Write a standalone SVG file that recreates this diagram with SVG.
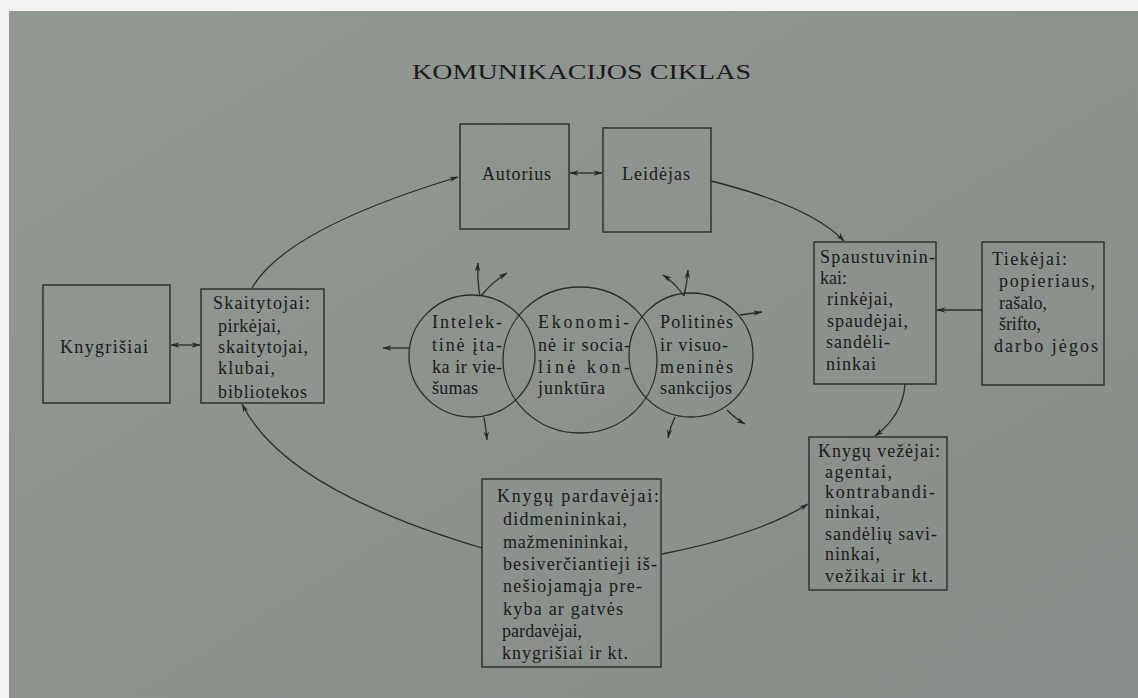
<svg xmlns="http://www.w3.org/2000/svg" width="1138" height="698" viewBox="0 0 1138 698">
<defs>
<linearGradient id="bg" x1="0" y1="0" x2="1" y2="1">
<stop offset="0" stop-color="#929892"/>
<stop offset="1" stop-color="#878d88"/>
</linearGradient>
<marker id="ah" viewBox="0 0 10 6" refX="9.5" refY="3" markerWidth="9" markerHeight="6" markerUnits="userSpaceOnUse" orient="auto-start-reverse">
<path d="M0,0 L10,3 L0,6 L3,3 z" fill="#272827"/>
</marker>
<style>
.box{fill:none;stroke:#2a2b2a;stroke-width:1.4}
.ln{fill:none;stroke:#2a2b2a;stroke-width:1.3}
.arr{fill:none;stroke:#2a2b2a;stroke-width:1.3;marker-end:url(#ah)}
.dbl{fill:none;stroke:#2a2b2a;stroke-width:1.3;marker-start:url(#ah);marker-end:url(#ah)}
.t{font-family:"Liberation Serif",serif;font-size:18px;fill:#1a1b1a}
.title{font-family:"Liberation Serif",serif;font-size:21px;fill:#1a1b1a}
</style>
</defs>
<rect x="0" y="0" width="1138" height="698" fill="#f4f4f2"/>
<rect x="9" y="11" width="1129" height="687" fill="url(#bg)"/>

<text class="title" x="412" y="79" textLength="339" lengthAdjust="spacingAndGlyphs">KOMUNIKACIJOS CIKLAS</text>

<g id="connectors">
<path id="c-skait-aut" class="arr" d="M252,288 Q286,229 458,177"/>
<path id="c-aut-leid" class="dbl" d="M570,173 L602,173"/>
<path id="c-leid-spaus" class="arr" d="M711,181 Q811,206 844,241"/>
<path id="c-tiek-spaus" class="arr" d="M982,310 L937,310"/>
<path id="c-spaus-vez" class="arr" d="M905,384 Q903,415 875,436"/>
<path id="c-pard-vez" class="arr" d="M662,554 Q758,535 808,504"/>
<path id="c-pard-skait" class="arr" d="M482,548 Q284,489 242,404"/>
<path id="c-knyg-skait" class="dbl" d="M171,345 L200,345"/>
<path class="arr" d="M480,296 Q477,280 478,263"/>
<path class="arr" d="M481,296 Q492,282 507,273"/>
<path class="arr" d="M409,348 L383,348"/>
<path class="arr" d="M484,417 Q486,428 487,440"/>
<path class="arr" d="M684,296 Q687,283 688,270"/>
<path class="arr" d="M684,296 Q675,283 663,275"/>
<path class="arr" d="M740,315 L762,312"/>
<path class="arr" d="M675,417 Q670,427 668,438"/>
<path class="arr" d="M727,410 Q736,419 745,424"/>
</g>

<g id="autorius">
<rect class="box" x="460" y="124" width="109" height="105"/>
<text class="t" x="482" y="180" textLength="69">Autorius</text>
</g>

<g id="leidejas">
<rect class="box" x="603" y="128" width="108" height="104"/>
<text class="t" x="622" y="180" textLength="68">Leidėjas</text>
</g>

<g id="spaustuvininkai">
<rect class="box" x="814" y="242" width="122" height="142"/>
<text class="t" x="820" y="263" textLength="115">Spaustuvinin-</text>
<text class="t" x="820" y="284" textLength="27">kai:</text>
<text class="t" x="827" y="305" textLength="66">rinkėjai,</text>
<text class="t" x="827" y="327" textLength="81">spaudėjai,</text>
<text class="t" x="826" y="348" textLength="64">sandėli-</text>
<text class="t" x="826" y="370" textLength="50">ninkai</text>
</g>

<g id="tiekejai">
<rect class="box" x="982" y="242" width="122" height="143"/>
<text class="t" x="992" y="265" textLength="75">Tiekėjai:</text>
<text class="t" x="999" y="287" textLength="96">popieriaus,</text>
<text class="t" x="999" y="309" textLength="48">rašalo,</text>
<text class="t" x="999" y="330" textLength="42">šrifto,</text>
<text class="t" x="994" y="352" textLength="104">darbo jėgos</text>
</g>

<g id="vezejai">
<rect class="box" x="809" y="437" width="138" height="153"/>
<text class="t" x="818" y="457" textLength="122">Knygų vežėjai:</text>
<text class="t" x="825" y="478" textLength="67">agentai,</text>
<text class="t" x="825" y="498" textLength="110">kontrabandi-</text>
<text class="t" x="825" y="518" textLength="55">ninkai,</text>
<text class="t" x="825" y="540" textLength="112">sandėlių savi-</text>
<text class="t" x="825" y="560" textLength="55">ninkai,</text>
<text class="t" x="825" y="582" textLength="108">vežikai ir kt.</text>
</g>

<g id="pardavejai">
<rect class="box" x="482" y="479" width="179" height="188"/>
<text class="t" x="497" y="502" textLength="162">Knygų pardavėjai:</text>
<text class="t" x="503" y="525" textLength="124">didmenininkai,</text>
<text class="t" x="503" y="548" textLength="125">mažmenininkai,</text>
<text class="t" x="503" y="570" textLength="154">besiverčiantieji iš-</text>
<text class="t" x="503" y="592" textLength="139">nešiojamąja pre-</text>
<text class="t" x="503" y="615" textLength="120">kyba ar gatvės</text>
<text class="t" x="502" y="637" textLength="80">pardavėjai,</text>
<text class="t" x="502" y="659" textLength="126">knygrišiai ir kt.</text>
</g>

<g id="skaitytojai">
<rect class="box" x="201" y="289" width="123" height="114"/>
<text class="t" x="213" y="309" textLength="97">Skaitytojai:</text>
<text class="t" x="218" y="332" textLength="63">pirkėjai,</text>
<text class="t" x="218" y="353" textLength="90">skaitytojai,</text>
<text class="t" x="218" y="374" textLength="57">klubai,</text>
<text class="t" x="218" y="398" textLength="89">bibliotekos</text>
</g>

<g id="knygrisiai">
<rect class="box" x="43" y="285" width="127" height="118"/>
<text class="t" x="60" y="353" textLength="88">Knygrišiai</text>
</g>

<g id="intelektine">
<ellipse class="ln" cx="472" cy="356" rx="63" ry="61"/>
<text class="t" x="432" y="328" textLength="70">Intelek-</text>
<text class="t" x="432" y="351" textLength="70">tinė įta-</text>
<text class="t" x="432" y="373" textLength="70">ka ir vie-</text>
<text class="t" x="432" y="394" textLength="46">šumas</text>
</g>

<g id="ekonomine">
<ellipse class="ln" cx="580" cy="360" rx="77" ry="73"/>
<text class="t" x="538" y="328" textLength="91">Ekonomi-</text>
<text class="t" x="538" y="351" textLength="92">nė ir socia-</text>
<text class="t" x="538" y="373" textLength="92">linė   kon-</text>
<text class="t" x="538" y="394" textLength="67">junktūra</text>
</g>

<g id="politines">
<ellipse class="ln" cx="691" cy="355" rx="62" ry="62"/>
<text class="t" x="660" y="328" textLength="73">Politinės</text>
<text class="t" x="660" y="351" textLength="68">ir visuo-</text>
<text class="t" x="660" y="373" textLength="73">meninės</text>
<text class="t" x="660" y="394" textLength="72">sankcijos</text>
</g>
</svg>
